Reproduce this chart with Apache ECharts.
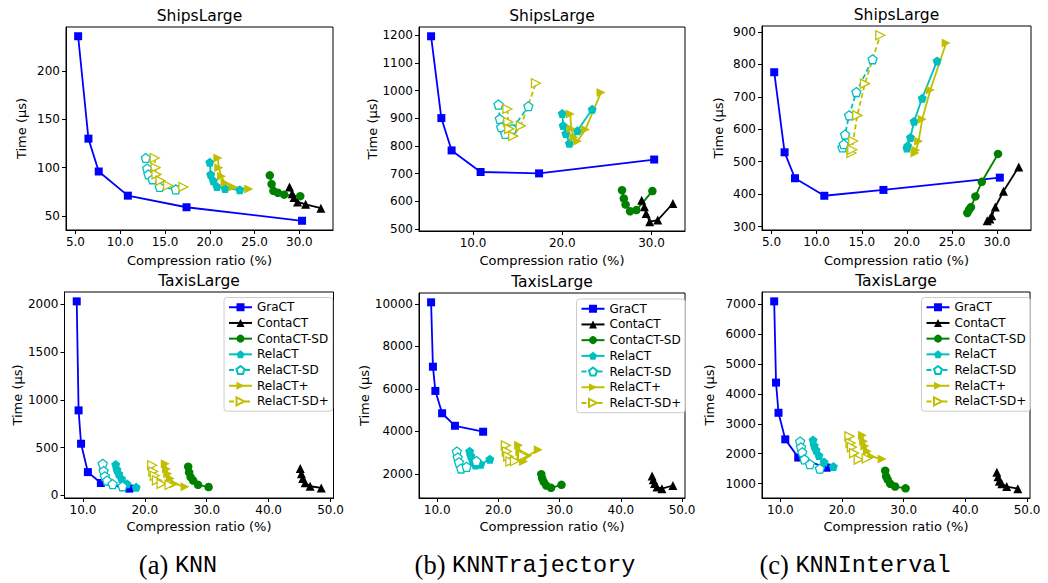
<!DOCTYPE html>
<html>
<head>
<meta charset="utf-8">
<script src="https://cdn.jsdelivr.net/npm/echarts@6/dist/echarts.min.js"></script>
<style>
html,body{margin:0;padding:0;background:#fff}
#chart{width:1048px;height:583px}
</style>
</head>
<body>
<div id="chart"></div>
<script>
// Index structures compared in every panel (same order in all row arrays below)
const methods = ['GraCT', 'ContaCT', 'ContaCT-SD', 'RelaCT', 'RelaCT-SD', 'RelaCT+', 'RelaCT-SD+'];

// Compression ratio (%) of each configuration, ShipsLarge dataset
const shipsRatio = [
  [5.3, 6.45, 7.6, 10.85, 17.4, 30.3],
  [28.9, 29.2, 29.4, 29.8, 30.7, 32.4],
  [26.7, 26.9, 27.1, 27.6, 28.3, 30.1],
  [20.0, 20.1, 20.4, 20.8, 21.7, 23.35],
  [12.85, 13.0, 13.15, 13.6, 14.4, 16.2],
  [20.9, 21.0, 21.3, 21.7, 22.6, 24.35],
  [13.85, 13.95, 14.05, 14.5, 15.35, 17.05]
];

// Compression ratio (%) of each configuration, TaxisLarge dataset
const taxisRatio = [
  [9.0, 9.3, 9.7, 10.8, 12.9, 17.5],
  [45.1, 45.3, 45.5, 45.9, 46.7, 48.5],
  [27.0, 27.15, 27.4, 27.8, 28.6, 30.3],
  [15.3, 15.5, 15.8, 16.25, 17.1, 18.6],
  [13.2, 13.35, 13.55, 13.9, 14.8, 16.4],
  [23.3, 23.5, 23.7, 24.1, 24.8, 26.5],
  [21.2, 21.37, 21.6, 21.95, 22.7, 24.0]
];

// Query time (µs), ShipsLarge
const knnShips = [
  [236, 130, 96, 71, 59, 45],
  [80, 73, 69, 64.5, 62, 58],
  [92, 83, 76, 74, 72, 70.5],
  [105.5, 93, 86.5, 80.5, 78.5, 77],
  [110, 99, 93, 88, 80, 77.5],
  [110, 100, 91, 84, 80, 78],
  [110, 100, 93, 86.5, 81.5, 80]
];
const knnTrajectoryShips = [
  [1197, 901, 784, 706, 701, 751],
  [604, 580, 556, 526, 532, 592],
  [640, 610, 588, 564, 568, 637],
  [918, 874, 845, 810, 855, 933],
  [950, 898, 868, 844, 862, 944],
  [916, 862, 832, 817, 860, 994],
  [934, 887, 862, 836, 873, 1027]
];
const knnIntervalShips = [
  [776, 529, 449, 395, 413, 451],
  [318, 323, 333, 360, 409, 484],
  [342, 352, 360, 393, 438, 524],
  [542, 549, 575, 625, 696, 811],
  [544, 554, 584, 643, 715, 816],
  [527, 535, 563, 631, 721, 866],
  [527, 537, 564, 643, 741, 890]
];

// Query time (µs), TaxisLarge
const knnTaxis = [
  [2030, 889, 540, 243, 129, 70],
  [280, 225, 175, 132, 95, 77],
  [300, 240, 190, 155, 110, 87],
  [322, 270, 225, 173, 120, 85],
  [330, 255, 200, 155, 118, 95],
  [330, 275, 225, 175, 120, 90],
  [315, 250, 205, 157, 120, 110]
];
const knnTrajectoryTaxis = [
  [10070, 7040, 5900, 4850, 4260, 3980],
  [1900, 1720, 1540, 1380, 1300, 1450],
  [1980, 1780, 1620, 1450, 1340, 1480],
  [3060, 2850, 2620, 2420, 2450, 2690],
  [3050, 2770, 2540, 2250, 2330, 2600],
  [3340, 3050, 2820, 2580, 2850, 3130],
  [3340, 3050, 2820, 2580, 2600, 2850]
];
const knnIntervalTaxis = [
  [7100, 4380, 3370, 2480, 1870, 1530],
  [1380, 1230, 1080, 990, 900, 830],
  [1430, 1240, 1130, 995, 900, 840],
  [2460, 2270, 2120, 1940, 1720, 1570],
  [2410, 2210, 2050, 1810, 1650, 1500],
  [2620, 2420, 2260, 2080, 1900, 1820],
  [2580, 2360, 2220, 2020, 1800, 1840]
];

// Tick values
const shipsXTicksWide = [5, 10, 15, 20, 25, 30];
const shipsXTicksCoarse = [10, 20, 30];
const taxisXTicks = [10, 20, 30, 40, 50];
const yTicksKnnShips = [50, 100, 150, 200];
const yTicksTrajShips = [500, 600, 700, 800, 900, 1000, 1100, 1200];
const yTicksIntervalShips = [300, 400, 500, 600, 700, 800, 900];
const yTicksKnnTaxis = [0, 500, 1000, 1500, 2000];
const yTicksTrajTaxis = [2000, 4000, 6000, 8000, 10000];
const yTicksIntervalTaxis = [1000, 2000, 3000, 4000, 5000, 6000, 7000];

const datasetNames = ['ShipsLarge', 'TaxisLarge'];
const queryTags = ['(a) ', '(b) ', '(c) '];
const queryNames = ['KNN', 'KNNTrajectory', 'KNNInterval'];

// Panels, row by row
const panels = [
  { ratio: shipsRatio, time: knnShips, xt: shipsXTicksWide, yt: yTicksKnnShips, title: datasetNames[0] },
  { ratio: shipsRatio, time: knnTrajectoryShips, xt: shipsXTicksCoarse, yt: yTicksTrajShips, title: datasetNames[0] },
  { ratio: shipsRatio, time: knnIntervalShips, xt: shipsXTicksWide, yt: yTicksIntervalShips, title: datasetNames[0] },
  { ratio: taxisRatio, time: knnTaxis, xt: taxisXTicks, yt: yTicksKnnTaxis, title: datasetNames[1] },
  { ratio: taxisRatio, time: knnTrajectoryTaxis, xt: taxisXTicks, yt: yTicksTrajTaxis, title: datasetNames[1] },
  { ratio: taxisRatio, time: knnIntervalTaxis, xt: taxisXTicks, yt: yTicksIntervalTaxis, title: datasetNames[1] }
];

// Plot-area boxes and axis-name offsets
const layout = [
  { left: 66, top: 27, width: 267, height: 203, yGap: 38, xGap: 24 },
  { left: 419, top: 27, width: 266, height: 204, yGap: 38, xGap: 23 },
  { left: 762, top: 26, width: 269, height: 204, yGap: 37, xGap: 24 },
  { left: 64.5, top: 292, width: 269, height: 206, yGap: 36, xGap: 22 },
  { left: 419, top: 293, width: 266, height: 205, yGap: 47, xGap: 22 },
  { left: 762, top: 292, width: 268, height: 206, yGap: 46, xGap: 22 }
];
const legendPos = [
  { left: 224, top: 297.5 },
  { left: 576.5, top: 299 },
  { left: 921.5, top: 297.5 }
];
const captionX = [178, 525, 855];

const FONT = 'DejaVu Sans';
const PENTAGON = 'path://M0,-10L9.511,-3.09L5.878,8.09L-5.878,8.09L-9.511,-3.09Z';
const looks = [
  { color: '#0000ff', symbol: 'rect', size: 8 },
  { color: '#000000', symbol: 'triangle', size: 9 },
  { color: '#008000', symbol: 'circle', size: 8.5 },
  { color: '#00bfbf', symbol: PENTAGON, size: 9 },
  { color: '#00bfbf', symbol: PENTAGON, size: 9, hollow: true, dashed: true },
  { color: '#bfbf00', symbol: 'triangle', size: 9, rotate: -90 },
  { color: '#bfbf00', symbol: 'triangle', size: 9, rotate: -90, hollow: true, dashed: true }
];

const padLow = v => v.min - 0.05 * (v.max - v.min);
const padHigh = v => v.max + 0.05 * (v.max - v.min);

const grids = [], xAxes = [], yAxes = [], series = [];
panels.forEach((p, k) => {
  const L = layout[k];
  grids.push({
    left: L.left, top: L.top, width: L.width, height: L.height,
    show: true, borderColor: '#000', borderWidth: 1, backgroundColor: 'transparent',
    containLabel: false, outerBoundsMode: 'none'
  });
  xAxes.push({
    gridIndex: k, type: 'value', min: padLow, max: padHigh,
    axisLine: { show: true, onZero: false, lineStyle: { color: '#000', width: 1 } },
    axisTick: { show: true, inside: false, length: 4, customValues: p.xt, lineStyle: { color: '#000', width: 1 } },
    axisLabel: { customValues: p.xt, formatter: v => v.toFixed(1), color: '#000', fontSize: 12, fontFamily: FONT, margin: 6 },
    splitLine: { show: false },
    name: 'Compression ratio (%)', nameLocation: 'middle', nameGap: L.xGap,
    nameTextStyle: { color: '#000', fontSize: 13, fontFamily: FONT }
  });
  yAxes.push({
    gridIndex: k, type: 'value', min: padLow, max: padHigh,
    axisLine: { show: true, onZero: false, lineStyle: { color: '#000', width: 1 } },
    axisTick: { show: true, inside: false, length: 4, customValues: p.yt, lineStyle: { color: '#000', width: 1 } },
    axisLabel: { customValues: p.yt, formatter: v => String(Math.round(v)), color: '#000', fontSize: 12, fontFamily: FONT, margin: 6 },
    splitLine: { show: false },
    name: 'Time (μs)', nameLocation: 'middle', nameGap: L.yGap,
    nameTextStyle: { color: '#000', fontSize: 13, fontFamily: FONT }
  });
  methods.forEach((m, s) => {
    const lk = looks[s];
    series.push({
      type: 'line', name: m, xAxisIndex: k, yAxisIndex: k,
      data: p.ratio[s].map((x, i) => [x, p.time[s][i]]),
      symbol: lk.symbol, symbolSize: lk.size, symbolRotate: lk.rotate || 0,
      showAllSymbol: true, clip: false,
      itemStyle: lk.hollow
        ? { color: '#ffffff', borderColor: lk.color, borderWidth: 1.3 }
        : { color: lk.color, borderColor: lk.color, borderWidth: 0 },
      lineStyle: { color: lk.color, width: 1.8, type: lk.dashed ? [5, 3] : 'solid' },
      emphasis: { disabled: true },
      animation: false
    });
  });
});

const legends = legendPos.map(pos => ({
  orient: 'vertical', left: pos.left, top: pos.top, data: methods,
  itemWidth: 23, itemHeight: 10, itemGap: 2.2, itemTextGap: 8, selectedMode: false,
  textStyle: { fontSize: 12, fontFamily: FONT, color: '#000', lineHeight: 13.5 },
  padding: [3, 4, 3, 4],
  borderColor: '#cccccc', borderWidth: 1, borderRadius: 3,
  backgroundColor: 'rgba(255,255,255,0.8)'
}));

const graphics = [];
panels.forEach((p, k) => {
  const L = layout[k];
  graphics.push({
    type: 'text', x: L.left + L.width / 2, y: L.top - 11,
    style: { text: p.title, font: '15.5px "' + FONT + '"', fill: '#000', textAlign: 'center', textVerticalAlign: 'middle' }
  });
});
queryNames.forEach((q, i) => {
  graphics.push({
    type: 'text', x: captionX[i], y: 565,
    style: {
      text: '{t|' + queryTags[i] + '}{m|' + q + '}',
      textAlign: 'center', textVerticalAlign: 'middle',
      rich: {
        t: { fontFamily: '"Liberation Serif", "DejaVu Serif", serif', fontSize: 26.5, fill: '#000' },
        m: { fontFamily: '"Liberation Mono", "DejaVu Sans Mono", monospace', fontSize: 23.5, fill: '#000' }
      }
    }
  });
});

const chart = echarts.init(document.getElementById('chart'), null, { renderer: 'svg' });
chart.setOption({
  animation: false,
  backgroundColor: '#ffffff',
  grid: grids,
  xAxis: xAxes,
  yAxis: yAxes,
  legend: legends,
  series: series,
  graphic: graphics
});
</script>
</body>
</html>
